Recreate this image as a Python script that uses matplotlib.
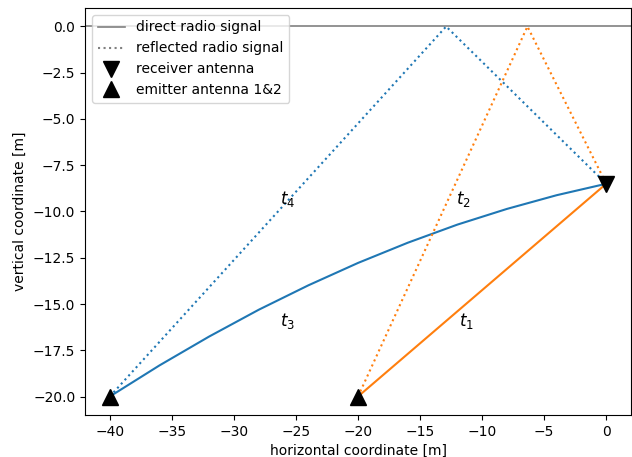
import matplotlib
matplotlib.use("Agg")
import matplotlib.pyplot as plt
from matplotlib.lines import Line2D

# antenna positions [m]
receiver = (0.0, -8.5)
emitter_x = [-40.0, -20.0]
emitter_y = [-20.0, -20.0]

# reflection points on the surface (y = 0)
reflect_x = [-12.9, -6.35]

# curved direct path t3 (emitter 1 -> receiver)
curve_x = [-40, -36, -32, -28, -24, -20, -16, -12, -8, -4, 0]
curve_y = [-20.0, -18.32, -16.76, -15.31, -13.99, -12.78, -11.69, -10.71, -9.86, -9.12, -8.5]

# label positions
labels = ["$t_1$", "$t_2$", "$t_3$", "$t_4$"]
label_x = [-11.3, -11.5, -25.7, -25.7]
label_y = [-15.9, -9.35, -15.9, -9.35]

fig = plt.figure(figsize=(6.32, 4.57), dpi=100)
ax = fig.add_axes([0.1345, 0.0919, 0.864, 0.8906])

ax.axhline(0, color="gray", lw=1.2, label="direct radio signal")

# emitter 1 (blue)
ax.plot(curve_x, curve_y, color="C0", lw=1.5)
ax.plot([emitter_x[0], reflect_x[0], receiver[0]], [emitter_y[0], 0, receiver[1]],
        ":", color="C0", lw=1.5)
# emitter 2 (orange)
ax.plot([emitter_x[1], receiver[0]], [emitter_y[1], receiver[1]], color="C1", lw=1.5)
ax.plot([emitter_x[1], reflect_x[1], receiver[0]], [emitter_y[1], 0, receiver[1]],
        ":", color="C1", lw=1.5)

ax.plot([receiver[0]], [receiver[1]], "v", color="k", ms=11, label="receiver antenna", zorder=5)
ax.plot(emitter_x, emitter_y, "^", color="k", ms=11, label="emitter antenna 1&2", zorder=5)

for t, x, y in zip(labels, label_x, label_y):
    ax.text(x, y, t, fontsize=12, ha="center", va="center")

handles = [
    Line2D([], [], color="gray", lw=1.2),
    Line2D([], [], color="gray", ls=":", lw=1.5),
    Line2D([], [], color="k", marker="v", ls="none", ms=11),
    Line2D([], [], color="k", marker="^", ls="none", ms=11),
]
ax.legend(handles, ["direct radio signal", "reflected radio signal",
                    "receiver antenna", "emitter antenna 1&2"], loc="upper left")

ax.set_xlim(-42, 2)
ax.set_ylim(-21, 1)
ax.set_xlabel("horizontal coordinate [m]")
ax.set_ylabel("vertical coordinate [m]")

fig.savefig("out.png", dpi=100)
